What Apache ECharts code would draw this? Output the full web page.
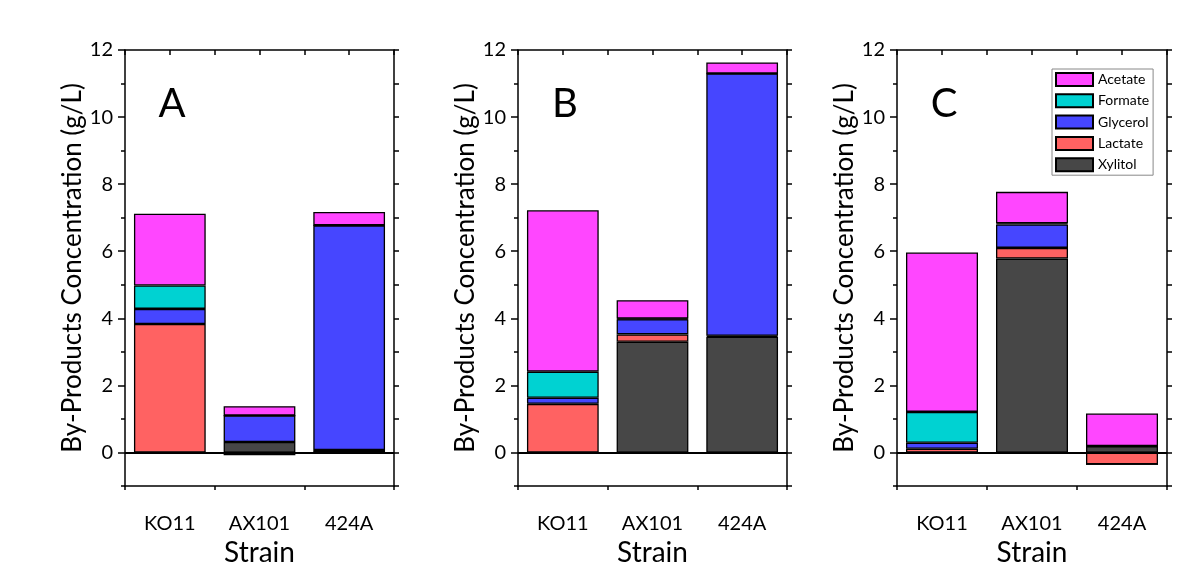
<!DOCTYPE html>
<html>
<head>
<meta charset="utf-8">
<script src="https://cdn.jsdelivr.net/npm/echarts@6/dist/echarts.min.js"></script>
<style>html,body{margin:0;padding:0;background:#fff;}#c{width:1200px;height:568px;}</style>
</head>
<body>
<div id="c"></div>
<script>
const categories = ['KO11', 'AX101', '424A'];
const seriesNames = ['Xylitol', 'Lactate', 'Glycerol', 'Formate', 'Acetate'];
const legendOrder = ['Acetate', 'Formate', 'Glycerol', 'Lactate', 'Xylitol'];
const panelLabels = ['A', 'B', 'C'];
const yTickLabels = [0, 2, 4, 6, 8, 10, 12];

// Panel A
const xylitolA  = [0.00, 0.31, 0.00];
const lactateA  = [3.83, -0.08, 0.07];
const glycerolA = [0.45, 0.79, 6.70];
const formateA  = [0.70, 0.00, 0.00];
const acetateA  = [2.14, 0.28, 0.40];
// Panel B
const xylitolB  = [0.00, 3.30, 3.45];
const lactateB  = [1.45, 0.22, 0.03];
const glycerolB = [0.18, 0.45, 7.82];
const formateB  = [0.78, 0.02, 0.00];
const acetateB  = [4.81, 0.55, 0.33];
// Panel C
const xylitolC  = [0.00, 5.78, 0.19];
const lactateC  = [0.11, 0.32, -0.35];
const glycerolC = [0.18, 0.70, 0.00];
const formateC  = [0.92, 0.03, 0.00];
const acetateC  = [4.75, 0.94, 0.97];

const panels = [
  [xylitolA, lactateA, glycerolA, formateA, acetateA],
  [xylitolB, lactateB, glycerolB, formateB, acetateB],
  [xylitolC, lactateC, glycerolC, formateC, acetateC]
];
const colors = { Xylitol: '#474747', Lactate: '#FF6262', Glycerol: '#4646FF', Formate: '#00D2D2', Acetate: '#FF46FF' };

const FONT = 'Lato';
const gridLefts = [125, 518, 897];
const gridWidths = [269, 269, 270];
const gridTop = 50;
const gridHeight = 436;

const grid = [], xAxis = [], yAxis = [], series = [], graphic = [];
gridLefts.forEach((l, gi) => {
  grid.push({ left: l, top: gridTop, width: gridWidths[gi], height: gridHeight, containLabel: false, outerBoundsMode: 'none' });
  xAxis.push({
    type: 'category', gridIndex: gi, data: categories, position: 'bottom',
    axisLine: { onZero: false, lineStyle: { color: '#000', width: 1.5 } },
    axisTick: { alignWithLabel: true, length: 7, lineStyle: { color: '#000', width: 1.5 } },
    axisLabel: { color: '#000', fontSize: 20, fontFamily: FONT, margin: 28 },
    name: 'Strain', nameLocation: 'middle', nameGap: 48,
    nameTextStyle: { color: '#000', fontSize: 28, fontFamily: FONT },
    splitLine: { show: false }
  });
  xAxis.push({
    type: 'value', gridIndex: gi, position: 'bottom', min: 0, max: 3, interval: 1,
    axisLine: { show: false, onZero: false }, axisTick: { show: true, length: 4, lineStyle: { color: '#000', width: 1.5 } },
    axisLabel: { show: false }, splitLine: { show: false }
  });
  xAxis.push({
    type: 'value', gridIndex: gi, position: 'top', min: 0, max: 3, interval: 0.5,
    axisLine: { show: true, onZero: false, lineStyle: { color: '#000', width: 1.5 } },
    axisTick: { show: true, inside: true, length: 5, lineStyle: { color: '#000', width: 1.5 } },
    axisLabel: { show: false }, splitLine: { show: false }
  });
  yAxis.push({
    type: 'value', gridIndex: gi, position: 'left', min: -1, max: 12,
    axisLine: { show: true, onZero: false, lineStyle: { color: '#000', width: 1.5 } },
    axisTick: { show: true, length: 7, customValues: yTickLabels, lineStyle: { color: '#000', width: 1.5 } },
    axisLabel: { color: '#000', fontSize: 20, fontFamily: FONT, margin: 12, customValues: yTickLabels },
    splitLine: { show: false },
    name: 'By-Products Concentration (g/L)', nameLocation: 'middle', nameGap: 32,
    nameTextStyle: { color: '#000', fontSize: 26, fontFamily: FONT }
  });
  yAxis.push({
    type: 'value', gridIndex: gi, position: 'left', min: -1, max: 12, interval: 1,
    axisLine: { show: false, onZero: false }, axisTick: { show: true, length: 4, lineStyle: { color: '#000', width: 1.5 } },
    axisLabel: { show: false }, splitLine: { show: false }
  });
  yAxis.push({
    type: 'value', gridIndex: gi, position: 'right', min: -1, max: 12, interval: 1,
    axisLine: { show: true, onZero: false, lineStyle: { color: '#000', width: 1.5 } },
    axisTick: { show: true, length: 5, lineStyle: { color: '#000', width: 1.5 } },
    axisLabel: { show: false }, splitLine: { show: false }
  });

  seriesNames.forEach((name, si) => {
    const s = {
      type: 'bar', name: name, stack: 'panel' + gi,
      xAxisIndex: gi * 3, yAxisIndex: gi * 3,
      data: panels[gi][si],
      barCategoryGap: '20%',
      itemStyle: { color: colors[name], borderColor: '#000', borderWidth: 1.3 },
      emphasis: { disabled: true }, animation: false
    };
    if (si === 0) {
      s.markLine = {
        silent: true, symbol: ['none', 'none'], label: { show: false },
        lineStyle: { color: '#000', width: 2, type: 'solid' },
        data: [{ yAxis: 0 }], animation: false
      };
    }
    series.push(s);
  });

  graphic.push({
    type: 'text', x: l + 47, y: 104,
    style: { text: panelLabels[gi], fontSize: 40, fontFamily: FONT, fill: '#000', textAlign: 'center', textVerticalAlign: 'middle' }
  });
});

const chart = echarts.init(document.getElementById('c'), null, { renderer: 'canvas' });
chart.setOption({
  backgroundColor: '#fff',
  animation: false,
  textStyle: { fontFamily: FONT },
  grid, xAxis, yAxis, series, graphic,
  legend: {
    data: legendOrder, orient: 'vertical', left: 1052, top: 69,
    itemWidth: 37, itemHeight: 13, itemGap: 6.3,
    padding: [3, 4, 3, 3],
    borderColor: '#888', borderWidth: 1, backgroundColor: '#fff',
    textStyle: { color: '#000', fontSize: 14, fontFamily: FONT },
    icon: 'rect', selectedMode: false
  }
});
</script>
</body>
</html>
